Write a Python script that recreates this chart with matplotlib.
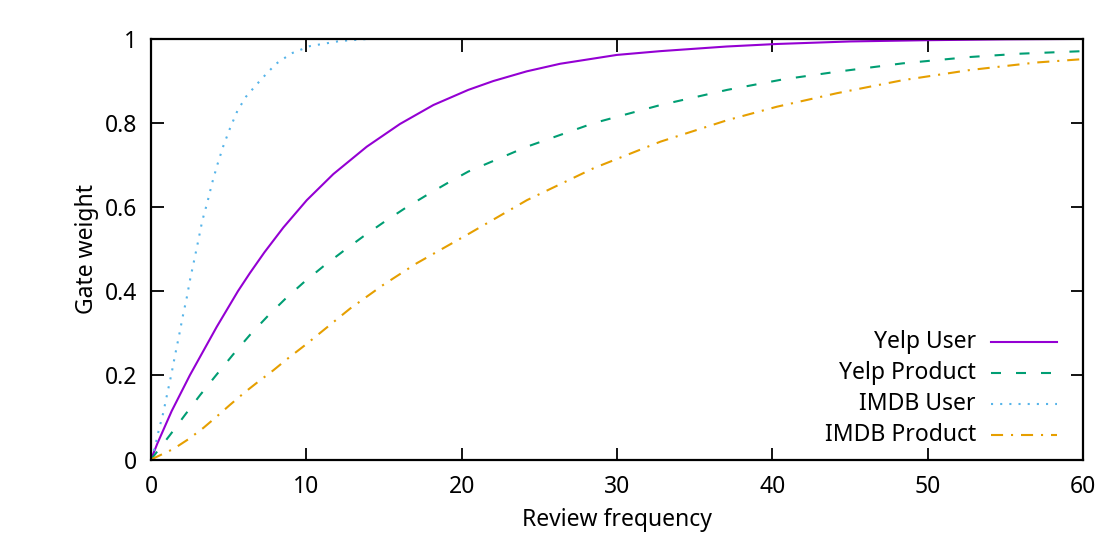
import matplotlib
matplotlib.use("Agg")
import matplotlib.pyplot as plt
from matplotlib.lines import Line2D

plt.rcParams['font.family'] = ['Noto Sans', 'DejaVu Sans']

# ---- data ----
yelp_user_x = [0, 0.41, 1.33, 2.5, 4.23, 5.6, 6.37, 7.3, 8.52, 10.03, 11.74, 13.89, 16.03, 18.18,
               20.43, 22.04, 24.19, 26.34, 29.99, 32.8, 37.07, 40.3, 45, 50, 55, 60]
yelp_user_y = [0, 0.038, 0.115, 0.2, 0.315, 0.4, 0.443, 0.492, 0.551, 0.616, 0.678, 0.743, 0.797, 0.842,
               0.878, 0.899, 0.922, 0.940, 0.961, 0.970, 0.981, 0.987, 0.993, 0.996, 0.998, 0.999]

yelp_prod_x = [0, 1.22, 2.19, 3.16, 4.23, 5.30, 6.37, 7.55, 8.63, 9.81, 11.1, 12.38, 13.67, 14.96,
               16.36, 17.75, 19.15, 20.43, 24.2, 28.5, 32.8, 37.1, 40.7, 44.15, 48.4, 52.7, 56, 60]
yelp_prod_y = [0, 0.058, 0.106, 0.153, 0.202, 0.25, 0.296, 0.342, 0.381, 0.42, 0.459, 0.495, 0.53, 0.563,
               0.597, 0.628, 0.658, 0.684, 0.743, 0.799, 0.842, 0.878, 0.903, 0.921, 0.941, 0.956, 0.964, 0.970]

imdb_user_x = [0, 0.26, 0.47, 0.79, 1.05, 1.31, 1.55, 1.80, 2.04, 2.30, 2.53, 2.79, 3.05, 3.30, 3.63,
               3.93, 4.27, 4.66, 5.09, 5.56, 6.12, 6.76, 7.17, 8.05, 9.06, 10.24, 12.17, 14, 16, 20, 30, 40, 50, 60]
imdb_user_y = [0, 0.03, 0.065, 0.111, 0.157, 0.202, 0.248, 0.293, 0.339, 0.384, 0.43, 0.475, 0.521, 0.567, 0.611,
               0.656, 0.70, 0.745, 0.787, 0.828, 0.862, 0.889, 0.906, 0.94, 0.965, 0.982, 0.994, 0.999, 1.0, 1.0, 1.0, 1.0, 1.0, 1.0]

imdb_prod_x = [0, 1.44, 2.4, 3.37, 4.23, 5.09, 6.05, 6.91, 7.88, 8.74, 10, 12.8, 14.96, 17.1, 20.5,
               24.2, 28.5, 32.8, 37.1, 40.3, 44.15, 48.4, 52.7, 57, 60]
imdb_prod_y = [0, 0.025, 0.048, 0.075, 0.102, 0.13, 0.16, 0.185, 0.212, 0.238, 0.274, 0.358, 0.415, 0.466, 0.537,
               0.616, 0.692, 0.755, 0.806, 0.838, 0.87, 0.901, 0.925, 0.943, 0.951]

labels = ["Yelp User", "Yelp Product", "IMDB User", "IMDB Product"]
colors = ["#9400D3", "#009E73", "#56B4E9", "#E69F00"]
styles = ["-", (0, (4.8, 7.2)), (0, (1.0, 3.4)), (0, (5.8, 3.8, 1.0, 3.8))]

x_ticks = [0, 10, 20, 30, 40, 50, 60]
y_ticks = [0, 0.2, 0.4, 0.6, 0.8, 1]
y_tick_labels = ["0", "0.2", "0.4", "0.6", "0.8", "1"]

fig = plt.figure(figsize=(11.16, 5.34), dpi=100)
ax = fig.add_axes([0.1353, 0.1395, 0.8351, 0.7884])

series = [(yelp_user_x, yelp_user_y), (yelp_prod_x, yelp_prod_y),
          (imdb_user_x, imdb_user_y), (imdb_prod_x, imdb_prod_y)]
for (xs, ys), c, ls in zip(series, colors, styles):
    ax.plot(xs, ys, color=c, linestyle=ls, linewidth=1.5)

ax.set_xlim(0, 60)
ax.set_ylim(0, 1)
ax.set_xticks(x_ticks)
ax.set_xticklabels([str(t) for t in x_ticks])
ax.set_yticks(y_ticks)
ax.set_yticklabels(y_tick_labels)
ax.tick_params(direction="in", length=9, width=1.3, top=True, right=True,
               labelsize=16.5, colors="black")
ax.tick_params(axis="x", pad=11)
ax.tick_params(axis="y", pad=10)
for s in ax.spines.values():
    s.set_linewidth(1.6)

ax.set_xlabel("Review frequency", fontsize=16.5, labelpad=6.5)
ax.set_ylabel("Gate weight", fontsize=16.5, labelpad=4)

# manual gnuplot-style legend (text right-aligned, sample to the right)
leg_y = [0.280, 0.205, 0.132, 0.058]
for yy, lab, c, ls in zip(leg_y, labels, colors, styles):
    ax.text(0.885, yy, lab, transform=ax.transAxes, ha="right", va="center",
            fontsize=16.5)
    ax.add_line(Line2D([0.9015, 0.972], [yy, yy], transform=ax.transAxes,
                       color=c, linestyle=ls, linewidth=1.5))

fig.savefig("out.png", dpi=100)
